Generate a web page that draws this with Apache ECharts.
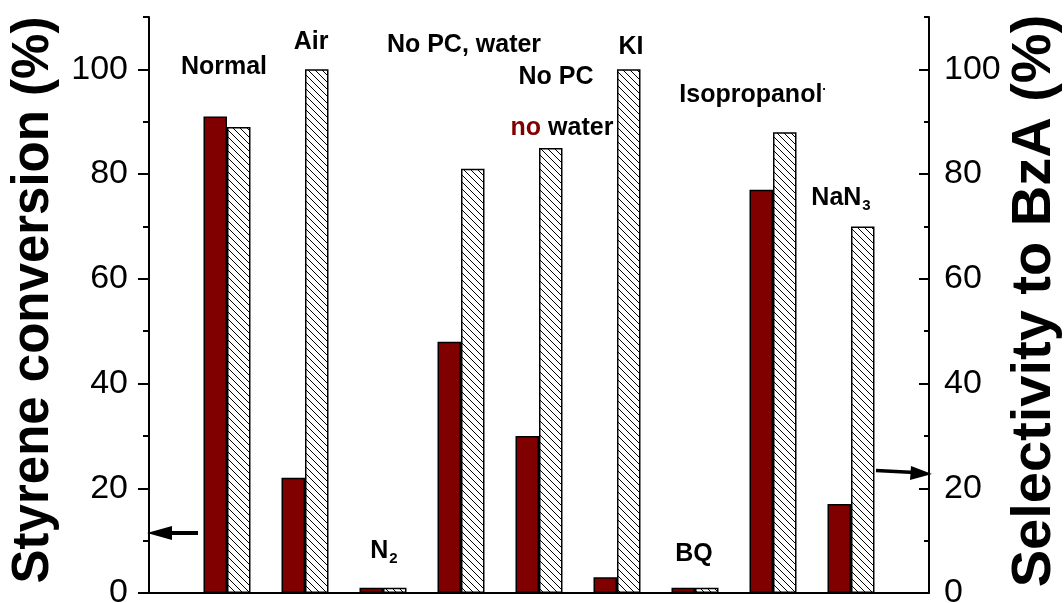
<!DOCTYPE html>
<html>
<head>
<meta charset="utf-8">
<script src="https://cdn.jsdelivr.net/npm/echarts@6/dist/echarts.min.js"></script>
<style>
  html, body { margin: 0; padding: 0; background: #fff; }
  #chart { width: 1064px; height: 603px; }
</style>
</head>
<body>
<div id="chart"></div>
<script>
// Reaction conditions (one group of two bars each)
const categories = ['Normal', 'Air', 'N2', 'No PC, water', 'No PC no water', 'KI', 'BQ', 'Isopropanol', 'NaN3'];
// Styrene conversion (%), left axis
const conversion = [91, 22, 1, 48, 30, 3, 1, 77, 17];
// Selectivity to benzaldehyde (%), right axis
const selectivity = [89, 100, 1, 81, 85, 100, 1, 88, 70];
// Axis ticks
const majorTicks = [0, 20, 40, 60, 80, 100];
const minorTicks = [10, 30, 50, 70, 90, 110];
const axisMax = 110;

const FONT = '"Liberation Sans", Arial, Helvetica, sans-serif';
const DARK_RED = '#800000';

// Diagonal hatch pattern ("\\\\") for the selectivity bars
function makeHatch() {
  const s = 7;
  const c = document.createElement('canvas');
  c.width = s; c.height = s;
  const g = c.getContext('2d');
  g.fillStyle = '#fff';
  g.fillRect(0, 0, s, s);
  g.strokeStyle = '#000';
  g.lineWidth = 1;
  g.beginPath();
  g.moveTo(-1, -1); g.lineTo(s + 1, s + 1);
  g.moveTo(-1, s - 1); g.lineTo(1, s + 1);
  g.moveTo(s - 1, -1); g.lineTo(s + 1, 1);
  g.stroke();
  return c;
}

// Pad the category axis so group i sits at position i+1 of 0..10
const xData = [''].concat(categories, ['']);
const pad = arr => [null].concat(arr, [null]);

const chart = echarts.init(document.getElementById('chart'), null, { renderer: 'canvas' });

function yAxisBase(position) {
  return {
    type: 'value', position: position, min: 0, max: axisMax,
    splitLine: { show: false },
    minorTick: { show: false }
  };
}

const option = {
  animation: false,
  backgroundColor: '#fff',
  grid: { left: 149, right: 135, top: 17, bottom: 10, containLabel: false, outerBoundsMode: 'none' },
  xAxis: {
    type: 'category', data: xData, boundaryGap: false,
    axisLine: { show: true, onZero: false, lineStyle: { color: '#000', width: 2 } },
    axisTick: { show: false }, axisLabel: { show: false },
    splitLine: { show: false }
  },
  yAxis: [
    Object.assign(yAxisBase('left'), {
      axisLine: { show: true, lineStyle: { color: '#000', width: 2 } },
      axisTick: { show: true, length: 11, inside: false, customValues: majorTicks, lineStyle: { color: '#000', width: 2 } },
      axisLabel: { show: true, customValues: majorTicks, margin: 21, color: '#000', fontSize: 34, fontFamily: FONT }
    }),
    Object.assign(yAxisBase('right'), {
      axisLine: { show: true, lineStyle: { color: '#000', width: 2 } },
      axisTick: { show: true, length: 10, inside: true, customValues: majorTicks, lineStyle: { color: '#000', width: 2 } },
      axisLabel: { show: true, customValues: majorTicks, margin: 15, color: '#000', fontSize: 34, fontFamily: FONT }
    }),
    // minor ticks, left
    Object.assign(yAxisBase('left'), {
      axisLine: { show: false },
      axisTick: { show: true, length: 6, inside: false, customValues: minorTicks, lineStyle: { color: '#000', width: 2 } },
      axisLabel: { show: false }
    }),
    // minor ticks, right
    Object.assign(yAxisBase('right'), {
      axisLine: { show: false },
      axisTick: { show: true, length: 5, inside: true, customValues: minorTicks, lineStyle: { color: '#000', width: 2 } },
      axisLabel: { show: false }
    })
  ],
  series: [
    {
      name: 'Styrene conversion', type: 'bar', yAxisIndex: 0,
      data: pad(conversion), barWidth: 23.5, barGap: '0%',
      itemStyle: { color: DARK_RED, borderColor: '#000', borderWidth: 1.5 }
    },
    {
      name: 'Selectivity to BzA', type: 'bar', yAxisIndex: 1,
      data: pad(selectivity), barWidth: 23.5, barGap: '0%',
      itemStyle: { color: { image: makeHatch(), repeat: 'repeat' }, borderColor: '#000', borderWidth: 1.5 }
    }
  ]
};

chart.setOption(option);

// Condition labels, axis titles and the two arrows pointing at their axes
const lbl = { fontSize: 25, fontWeight: 'bold', fontFamily: FONT, fill: '#000' };
const sub = { fontSize: 15, fontWeight: 'bold', fontFamily: FONT, fill: '#000', padding: [15, 0, 0, 1] };
function label(text, x, y, rich) {
  return {
    type: 'text', x: x, y: y, z: 10,
    style: Object.assign({ text: text, align: 'center', verticalAlign: 'middle', rich: rich || {} }, lbl)
  };
}
const richBase = {
  b: Object.assign({}, lbl),
  s: sub,
  r: Object.assign({}, lbl, { fill: DARK_RED }),
  d: { fontSize: 13, fontWeight: 'bold', fontFamily: FONT, fill: '#000', padding: [0, 0, 12, 0] }
};

const titleStyle = { fontWeight: 'bold', fontFamily: FONT, fill: '#000', align: 'center', verticalAlign: 'middle' };

chart.setOption({
  graphic: [
    label('Normal', 224, 67),
    label('Air', 311, 42),
    label('{b|N}{s|2}', 384, 551, richBase),
    label('No PC, water', 464, 45),
    label('No PC', 556, 77),
    label('{r|no} {b|water}', 562, 128, richBase),
    label('KI', 631, 47),
    label('BQ', 694, 554),
    label('{b|Isopropanol}{d|·}', 753, 95, richBase),
    label('{b|NaN}{s|3}', 841, 198, richBase),
    {
      type: 'text', x: 34, y: 300, rotation: Math.PI / 2, z: 10,
      style: Object.assign({ text: 'Styrene conversion (%)', fontSize: 51 }, titleStyle)
    },
    {
      type: 'text', x: 1035, y: 301, rotation: Math.PI / 2, z: 10,
      style: Object.assign({ text: 'Selectivity to BzA (%)', fontSize: 56 }, titleStyle)
    },
    // arrow toward the conversion axis
    { type: 'line', z: 10, shape: { x1: 198, y1: 533, x2: 168, y2: 533 }, style: { stroke: '#000', lineWidth: 4 } },
    { type: 'polygon', z: 10, shape: { points: [[147, 533], [172, 526], [172, 540]] }, style: { fill: '#000' } },
    // arrow toward the selectivity axis
    { type: 'line', z: 10, shape: { x1: 876, y1: 470.5, x2: 915, y2: 472.5 }, style: { stroke: '#000', lineWidth: 3.5 } },
    { type: 'polygon', z: 10, shape: { points: [[932, 474], [911, 466], [910, 480]] }, style: { fill: '#000' } }
  ]
});
</script>
</body>
</html>
